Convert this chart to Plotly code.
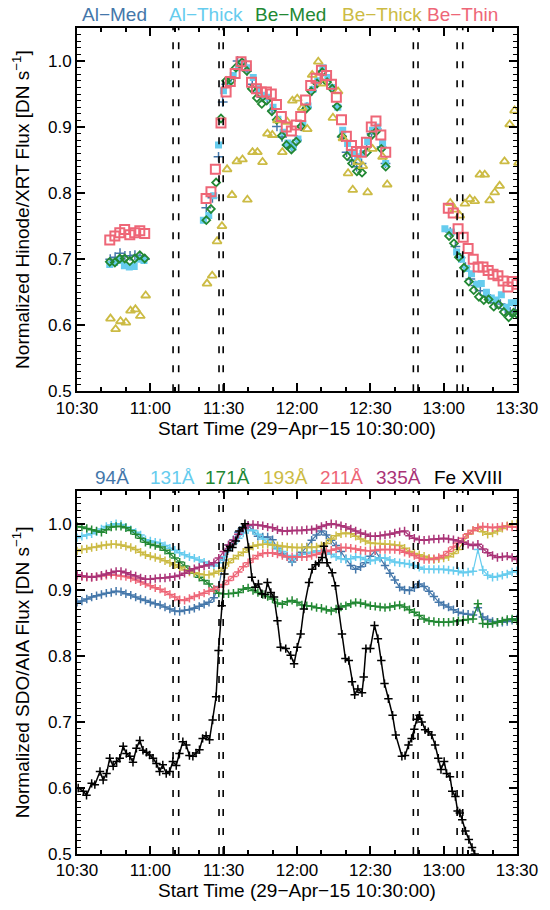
import plotly.graph_objects as go

# ---------------- Hinode/XRT (top panel) : minutes after 10:30 ----------------
ALMED_T = [13.6,15.6,17.6,19.6,21.7,23.7,25.8,27.8,
           52.9,55.4,57.9,59.6,61.1,63.1,65.7,67.6,69.6,71.7,73.7,75.7,77.8,79.8,81.8,83.9,85.9,87.9,90.0,92.0,
           94.1,96.1,98.1,100.2,102.2,104.2,106.3,108.3,110.3,112.4,114.4,116.4,118.5,120.5,122.6,124.6,126.2,
           152.7,154.8,156.9,158.9,160.9,163.0,165.0,167.1,169.1,171.1,173.2,175.2,177.2,179.3]
ALMED_V = [0.700,0.703,0.709,0.705,0.705,0.706,0.705,0.700,
           0.778,0.793,0.855,0.938,0.965,0.975,1.000,0.996,0.985,0.965,0.952,0.945,0.942,0.925,0.901,0.885,0.873,0.870,0.880,0.902,
           0.930,0.955,0.968,0.985,0.970,0.958,0.932,0.885,0.862,0.850,0.840,0.845,0.870,0.890,0.897,0.870,0.845,
           0.741,0.719,0.702,0.688,0.670,0.660,0.652,0.645,0.640,0.634,0.632,0.625,0.620,0.622]

ALTHICK_T = [13.4,15.4,17.4,19.4,21.4,23.4,25.4,27.4,
             51.7,53.9,55.9,57.9,59.9,61.9,63.9,66.0,68.0,70.0,72.1,74.1,76.1,78.2,80.2,82.2,84.3,86.3,88.4,90.4,
             92.4,94.5,96.5,98.5,100.6,102.6,104.6,106.7,108.7,110.7,112.8,114.8,116.9,118.9,120.9,123.0,125.0,126.3,
             150.5,153.2,155.3,157.3,159.3,161.4,163.4,165.4,167.5,169.5,171.5,173.6,175.6,177.7,179.7]
ALTHICK_V = [0.692,0.695,0.698,0.690,0.688,0.689,0.700,0.698,
             0.759,0.766,0.796,0.873,0.955,0.965,0.978,0.990,0.998,0.990,0.975,0.958,0.948,0.945,0.930,0.912,0.892,0.876,0.870,0.882,
             0.905,0.932,0.957,0.970,0.990,0.975,0.960,0.930,0.895,0.875,0.862,0.855,0.860,0.878,0.895,0.900,0.875,0.845,
             0.746,0.741,0.711,0.700,0.686,0.678,0.662,0.663,0.650,0.641,0.638,0.646,0.627,0.634,0.634]

BEMED_T = [13.4,15.5,17.5,19.5,21.6,23.6,25.7,27.7,
           52.9,54.8,56.9,58.9,61.0,63.0,65.0,67.5,69.5,71.5,73.6,75.6,77.6,79.7,81.7,83.8,85.7,87.7,89.7,91.7,
           93.8,95.8,98.2,100.3,102.3,104.4,106.4,108.4,110.5,112.5,114.5,116.6,118.6,120.6,122.3,124.5,126.3,
           152.2,154.2,156.2,158.3,160.3,162.3,164.4,166.4,168.4,170.5,172.5,174.6,176.6,178.6,180.0]
BEMED_V = [0.696,0.695,0.701,0.701,0.697,0.701,0.706,0.701,
           0.759,0.776,0.816,0.913,0.970,0.970,0.990,0.998,0.985,0.958,0.944,0.935,0.940,0.924,0.911,0.887,0.873,0.866,0.878,0.901,
           0.928,0.954,0.966,0.983,0.968,0.958,0.931,0.886,0.856,0.845,0.833,0.831,0.862,0.888,0.893,0.867,0.840,
           0.735,0.724,0.703,0.687,0.666,0.653,0.643,0.638,0.639,0.628,0.631,0.620,0.612,0.619,0.617]

BETHICK_T = [13.7,15.8,17.8,20.0,21.9,23.9,25.9,28.1,
             53.2,55.3,57.3,59.3,61.4,63.4,65.4,67.7,69.7,71.8,73.8,75.9,77.9,79.9,82.0,84.0,86.0,88.1,90.1,92.1,
             94.2,96.2,98.7,100.7,104.7,106.8,108.8,110.9,112.8,114.8,116.9,118.9,120.9,125.0,126.9,
             152.7,154.6,156.6,158.7,160.7,162.7,164.8,166.8,168.8,170.9,172.9,174.9,177.0,179.0,180.6]
BETHICK_V = [0.610,0.594,0.606,0.604,0.622,0.624,0.614,0.645,
             0.663,0.675,0.727,0.750,0.836,0.797,0.848,0.851,0.790,0.862,0.862,0.847,0.890,0.888,0.910,0.862,0.908,0.940,0.943,0.929,
             0.897,0.979,0.999,0.966,0.914,0.954,0.883,0.830,0.805,0.847,0.841,0.801,0.867,0.855,0.813,
             0.785,0.775,0.766,0.784,0.791,0.788,0.828,0.828,0.789,0.801,0.811,0.848,0.904,0.925,0.846]

BETHIN_T = [13.4,15.5,17.5,19.5,21.6,23.6,25.7,27.7,
            52.8,54.8,56.6,58.9,61.0,62.7,64.7,67.1,69.3,71.4,73.4,75.4,77.5,79.5,81.6,83.6,85.6,87.7,89.7,91.5,
            93.5,95.6,97.8,100.0,102.1,104.1,106.1,108.2,110.2,112.3,114.3,116.3,118.4,120.4,122.3,124.3,126.3,
            151.9,153.9,155.9,158.0,160.0,162.1,164.1,166.1,168.2,170.2,172.2,174.3,176.3,178.3,180.0]
BETHIN_V = [0.729,0.735,0.740,0.745,0.737,0.740,0.743,0.739,
            0.792,0.802,0.836,0.906,0.953,0.969,0.981,0.999,0.993,0.968,0.958,0.953,0.953,0.950,0.934,0.916,0.900,0.894,0.903,0.916,
            0.941,0.963,0.974,0.986,0.978,0.965,0.945,0.911,0.886,0.872,0.863,0.862,0.877,0.900,0.909,0.888,0.862,
            0.777,0.770,0.746,0.733,0.716,0.700,0.688,0.688,0.683,0.677,0.675,0.667,0.658,0.666,0.662]

# ---------------- SDO/AIA (bottom panel) ----------------
AIA_T = [0,2,4,6,8,10,12,14,16,18,20,22,24,26,28,30,32,34,36,38,40,42,44,46,48,50,52,54,56,58,
         60,62,64,66,68,70,72,74,76,78,80,82,84,86,88,90,92,94,96,98,100,102,104,106,108,110,112,114,116,118,
         120,122,124,126,128,130,132,134,136,138,140,142,144,146,148,150,152,154,156,158,160,162,164,166,168,170,
         172,174,176,178,180]
A94 = [0.881,0.883,0.886,0.889,0.891,0.893,0.895,0.896,0.898,0.897,
       0.894,0.892,0.889,0.886,0.884,0.881,0.879,0.877,0.874,0.871,
       0.868,0.867,0.869,0.870,0.872,0.875,0.878,0.881,0.888,0.905,
       0.945,0.968,0.976,0.987,0.995,0.997,0.990,0.981,0.980,0.980,
       0.976,0.963,0.955,0.950,0.942,0.950,0.957,0.965,0.975,0.983,
       0.989,0.983,0.975,0.967,0.958,0.947,0.937,0.931,0.935,0.941,
       0.951,0.959,0.948,0.937,0.925,0.915,0.904,0.900,0.899,0.903,
       0.909,0.905,0.898,0.890,0.881,0.877,0.874,0.870,0.866,0.864,
       0.863,0.862,0.873,0.859,0.855,0.852,0.851,0.851,0.852,0.854,
       0.856]
A131 = [0.979,0.981,0.983,0.985,0.988,0.992,0.996,0.998,1.000,0.999,
        0.995,0.991,0.987,0.983,0.976,0.974,0.972,0.971,0.967,0.963,
        0.960,0.956,0.953,0.950,0.948,0.945,0.942,0.938,0.936,0.941,
        0.950,0.962,0.970,0.978,0.986,0.991,0.990,0.984,0.977,0.972,
        0.968,0.962,0.958,0.952,0.946,0.952,0.954,0.955,0.957,0.959,
        0.959,0.957,0.954,0.950,0.947,0.946,0.947,0.950,0.949,0.946,
        0.944,0.945,0.948,0.948,0.945,0.942,0.941,0.940,0.939,0.937,
        0.934,0.931,0.931,0.931,0.931,0.931,0.930,0.929,0.928,0.926,
        0.927,0.928,0.961,0.930,0.922,0.919,0.920,0.922,0.924,0.927,
        0.929]
A171 = [0.996,0.995,0.993,0.991,0.989,0.987,0.991,0.995,0.996,0.996,
        0.994,0.990,0.984,0.978,0.972,0.969,0.967,0.965,0.960,0.955,
        0.948,0.942,0.936,0.930,0.925,0.919,0.914,0.909,0.900,0.895,
        0.894,0.894,0.895,0.896,0.901,0.903,0.899,0.896,0.893,0.890,
        0.886,0.880,0.878,0.882,0.884,0.881,0.877,0.876,0.875,0.873,
        0.872,0.870,0.868,0.871,0.874,0.876,0.879,0.881,0.880,0.878,
        0.876,0.875,0.874,0.873,0.874,0.876,0.877,0.874,0.870,0.866,
        0.861,0.856,0.853,0.852,0.851,0.851,0.851,0.852,0.853,0.854,
        0.855,0.856,0.879,0.849,0.848,0.849,0.851,0.853,0.855,0.856,
        0.853]
A193 = [0.959,0.961,0.962,0.964,0.965,0.967,0.968,0.969,0.969,0.968,
        0.966,0.964,0.961,0.957,0.953,0.951,0.949,0.947,0.944,0.941,
        0.938,0.934,0.930,0.927,0.926,0.924,0.923,0.923,0.925,0.928,
        0.933,0.941,0.947,0.952,0.957,0.962,0.966,0.968,0.969,0.969,
        0.968,0.967,0.966,0.965,0.964,0.964,0.964,0.964,0.964,0.965,
        0.967,0.970,0.977,0.982,0.985,0.986,0.985,0.981,0.977,0.974,
        0.971,0.970,0.970,0.969,0.969,0.968,0.967,0.963,0.958,0.955,
        0.953,0.951,0.948,0.946,0.947,0.948,0.950,0.955,0.961,0.972,
        0.984,0.990,0.994,0.988,0.984,0.986,0.989,0.993,0.997,0.999,
        1.000]
A211 = [0.921,0.920,0.919,0.919,0.920,0.921,0.922,0.923,0.922,0.921,
        0.920,0.918,0.915,0.912,0.909,0.906,0.903,0.901,0.897,0.893,
        0.889,0.885,0.884,0.887,0.890,0.892,0.895,0.898,0.901,0.904,
        0.908,0.914,0.920,0.927,0.935,0.941,0.947,0.952,0.955,0.956,
        0.956,0.954,0.952,0.950,0.950,0.950,0.950,0.950,0.952,0.954,
        0.956,0.958,0.960,0.962,0.964,0.964,0.963,0.962,0.960,0.959,
        0.959,0.960,0.961,0.961,0.961,0.961,0.960,0.957,0.955,0.952,
        0.948,0.946,0.946,0.947,0.949,0.952,0.958,0.965,0.971,0.978,
        0.985,0.990,0.994,0.996,0.995,0.994,0.995,0.996,0.996,0.995,
        0.995]
A335 = [0.923,0.921,0.920,0.919,0.920,0.922,0.924,0.926,0.928,0.928,
        0.926,0.923,0.921,0.918,0.916,0.916,0.917,0.918,0.918,0.919,
        0.920,0.922,0.925,0.929,0.932,0.934,0.936,0.938,0.941,0.948,
        0.958,0.968,0.975,0.984,0.993,0.998,0.999,0.998,0.997,0.995,
        0.994,0.991,0.989,0.989,0.990,0.990,0.990,0.991,0.991,0.993,
        0.996,0.998,1.000,0.999,0.997,0.995,0.992,0.989,0.986,0.984,
        0.981,0.981,0.982,0.983,0.984,0.986,0.988,0.989,0.982,0.978,
        0.976,0.975,0.976,0.977,0.977,0.978,0.977,0.976,0.974,0.972,
        0.969,0.967,0.969,0.962,0.956,0.952,0.949,0.950,0.951,0.949,
        0.946]
FE_T = [0.5,2.6,3.9,6.0,7.3,9.4,10.7,12.1,13.4,14.8,16.2,17.5,18.9,20.2,21.6,22.9,24.3,25.7,27.0,28.4,
        29.7,31.1,32.5,33.8,35.1,36.5,37.9,39.2,40.6,41.9,43.3,44.7,46.0,47.4,48.7,50.1,51.4,52.8,54.2,55.5,
        56.9,57.9,59.2,60.3,61.6,62.6,63.6,65.0,66.4,67.7,68.7,70.2,71.5,72.9,74.2,75.6,77.0,77.9,79.3,80.6,
        82.0,83.3,85.4,87.4,88.8,90.1,91.5,92.8,94.9,96.2,97.6,98.9,100.3,101.0,102.3,104.4,105.7,107.1,108.4,109.8,
        111.2,112.5,113.6,114.9,116.6,117.3,118.2,120.0,121.7,123.1,124.5,125.8,127.4,129.1,130.4,132.9,134.2,135.6,136.9,138.0,
        139.0,140.1,141.0,142.4,143.7,145.1,146.5,147.8,148.9,150.2,151.2,152.6,153.5,154.8,155.7,156.6,157.6,158.9,160.3,161.6,
        162.7,164.0,165.4]
FE_V = [0.600,0.595,0.589,0.607,0.605,0.625,0.612,0.622,0.645,0.633,0.640,0.645,0.663,0.652,0.648,0.639,0.660,0.672,0.657,0.654,
        0.650,0.645,0.637,0.625,0.635,0.622,0.625,0.640,0.634,0.652,0.670,0.665,0.649,0.648,0.653,0.658,0.675,0.679,0.673,0.703,
        0.738,0.808,0.876,0.924,0.959,0.966,0.964,0.974,0.989,0.994,1.000,0.964,0.919,0.904,0.909,0.894,0.893,0.911,0.896,0.889,
        0.853,0.813,0.811,0.801,0.788,0.813,0.833,0.871,0.911,0.931,0.938,0.941,0.949,0.966,0.941,0.926,0.906,0.871,0.833,0.796,
        0.793,0.761,0.741,0.750,0.744,0.768,0.811,0.811,0.846,0.826,0.793,0.758,0.735,0.710,0.680,0.648,0.649,0.665,0.675,0.689,
        0.704,0.710,0.700,0.688,0.685,0.680,0.665,0.645,0.628,0.640,0.622,0.617,0.595,0.587,0.565,0.562,0.552,0.535,0.522,0.510,
        0.500,0.488,0.475]

# event markers (minutes after 10:30), axis ticks
VLINES = [39.3, 41.6, 58.1, 59.8, 137.6, 139.5, 155.5, 157.8]
X_TICKS = [0, 30, 60, 90, 120, 150, 180]
X_TICK_LABELS = ["10:30", "11:00", "11:30", "12:00", "12:30", "13:00", "13:30"]
X_MINOR = [10, 20, 40, 50, 70, 80, 100, 110, 130, 140, 160, 170]
Y_TICKS = [0.5, 0.6, 0.7, 0.8, 0.9, 1.0]
Y_TICK_LABELS = ["0.5", "0.6", "0.7", "0.8", "0.9", "1.0"]

XRT_NAMES = ["Al\u2212Med", "Al\u2212Thick", "Be\u2212Med", "Be\u2212Thick", "Be\u2212Thin"]
AIA_NAMES = ["94\u00c5", "131\u00c5", "171\u00c5", "193\u00c5", "211\u00c5", "335\u00c5", "Fe XVIII"]

C_BLUE, C_CYAN, C_GREEN, C_YEL, C_PINK, C_PURP = "#4477AA", "#66CCEE", "#228833", "#CCBB44", "#EE6677", "#AA3377"

FONT = "Liberation Sans, Arial, Helvetica, sans-serif"
W, H = 550, 910
ML, MR, MT, MB = 77, 30, 28, 52
PH = H - MT - MB

def py(pix):
    return (H - MB - pix) / PH

def px(pix):
    return (pix - ML) / (W - ML - MR)

fig = go.Figure()

# top panel
fig.add_trace(go.Scatter(x=ALMED_T, y=ALMED_V, mode="markers", xaxis="x", yaxis="y",
                         marker=dict(symbol="cross-thin-open", size=7, color=C_BLUE, line=dict(color=C_BLUE, width=1.5))))
fig.add_trace(go.Scatter(x=ALTHICK_T, y=ALTHICK_V, mode="markers", xaxis="x", yaxis="y",
                         marker=dict(symbol="square", size=7, color=C_CYAN, line=dict(width=0))))
fig.add_trace(go.Scatter(x=BEMED_T, y=BEMED_V, mode="markers", xaxis="x", yaxis="y",
                         marker=dict(symbol="diamond-open", size=6, color=C_GREEN, line=dict(color=C_GREEN, width=1.8))))
fig.add_trace(go.Scatter(x=BETHICK_T, y=BETHICK_V, mode="markers", xaxis="x", yaxis="y",
                         marker=dict(symbol="triangle-up-open", size=8, color=C_YEL, line=dict(color=C_YEL, width=1.8))))
fig.add_trace(go.Scatter(x=BETHIN_T, y=BETHIN_V, mode="markers", xaxis="x", yaxis="y",
                         marker=dict(symbol="square-open", size=9, color=C_PINK, line=dict(color=C_PINK, width=2))))

# bottom panel
for vals, col in [(A94, C_BLUE), (A131, C_CYAN), (A171, C_GREEN), (A193, C_YEL), (A211, C_PINK), (A335, C_PURP)]:
    fig.add_trace(go.Scatter(x=AIA_T, y=vals, mode="lines+markers", xaxis="x2", yaxis="y2",
                             line=dict(color=col, width=1.2),
                             marker=dict(symbol="cross-thin-open", size=6, color=col, line=dict(color=col, width=1.5))))
fig.add_trace(go.Scatter(x=FE_T, y=FE_V, mode="lines+markers", xaxis="x2", yaxis="y2",
                         line=dict(color="black", width=1.5),
                         marker=dict(symbol="cross-thin-open", size=6, color="black", line=dict(color="black", width=1.5))))

shapes = []
for xr, yr in [("x", "y"), ("x2", "y2")]:
    for v in VLINES:
        shapes.append(dict(type="line", xref=xr, yref=yr + " domain", x0=v, x1=v, y0=0, y1=1,
                           line=dict(color="black", width=1.6, dash="7px,12px"), layer="above"))

ax_common = dict(showline=True, linecolor="black", linewidth=2, mirror="allticks", ticks="inside",
                 ticklen=8, tickwidth=1.5, tickcolor="black", showgrid=False, zeroline=False,
                 tickfont=dict(size=17, color="black", family=FONT))
xax = dict(ax_common, range=[0, 180], tickmode="array", tickvals=X_TICKS, ticktext=X_TICK_LABELS,
           minor=dict(ticks="inside", ticklen=4, tickwidth=1.5, tickcolor="black", tickmode="array", tickvals=X_MINOR),
           title=dict(text="Start Time (29\u2212Apr\u221215 10:30:00)", font=dict(size=19, color="black", family=FONT), standoff=4))
yax = dict(ax_common, range=[0.5, 1.05], tickmode="array", tickvals=Y_TICKS, ticktext=Y_TICK_LABELS,
           minor=dict(ticks="inside", ticklen=4, tickwidth=1.2, tickcolor="black", dtick=0.01, tick0=0.5))

top_dom = [py(393), 1.0]
bot_dom = [0.0, py(493)]

annotations = []
for name, col, cx in zip(XRT_NAMES, [C_BLUE, C_CYAN, C_GREEN, C_YEL, C_PINK], [115, 206.5, 292, 384.5, 465]):
    annotations.append(dict(text=name, x=px(cx), y=py(14), xref="paper", yref="paper", showarrow=False,
                            font=dict(size=19, color=col, family=FONT), xanchor="center", yanchor="middle"))
for name, col, cx in zip(AIA_NAMES, [C_BLUE, C_CYAN, C_GREEN, C_YEL, C_PINK, C_PURP, "black"],
                         [112.5, 173, 228.5, 286.5, 343, 400.5, 471.5]):
    annotations.append(dict(text=name, x=px(cx), y=py(480), xref="paper", yref="paper", showarrow=False,
                            font=dict(size=19, color=col, family=FONT), xanchor="center", yanchor="middle"))

fig.update_layout(
    width=W, height=H, margin=dict(l=ML, r=MR, t=MT, b=MB),
    paper_bgcolor="white", plot_bgcolor="white", showlegend=False,
    font=dict(family=FONT, color="black"),
    xaxis=dict(xax, domain=[0, 1], anchor="y"),
    yaxis=dict(yax, domain=top_dom, anchor="x",
               title=dict(text="Normalized Hinode/XRT Flux [DN s<sup>\u22121</sup>]",
                          font=dict(size=19, color="black", family=FONT), standoff=13)),
    xaxis2=dict(xax, domain=[0, 1], anchor="y2"),
    yaxis2=dict(yax, domain=bot_dom, anchor="x2",
                title=dict(text="Normalized SDO/AIA Flux [DN s<sup>\u22121</sup>]",
                           font=dict(size=19, color="black", family=FONT), standoff=13)),
    shapes=shapes, annotations=annotations,
)

fig.write_html("out.html", config={"displayModeBar": False},
               post_script="document.body.style.margin='0px';")
